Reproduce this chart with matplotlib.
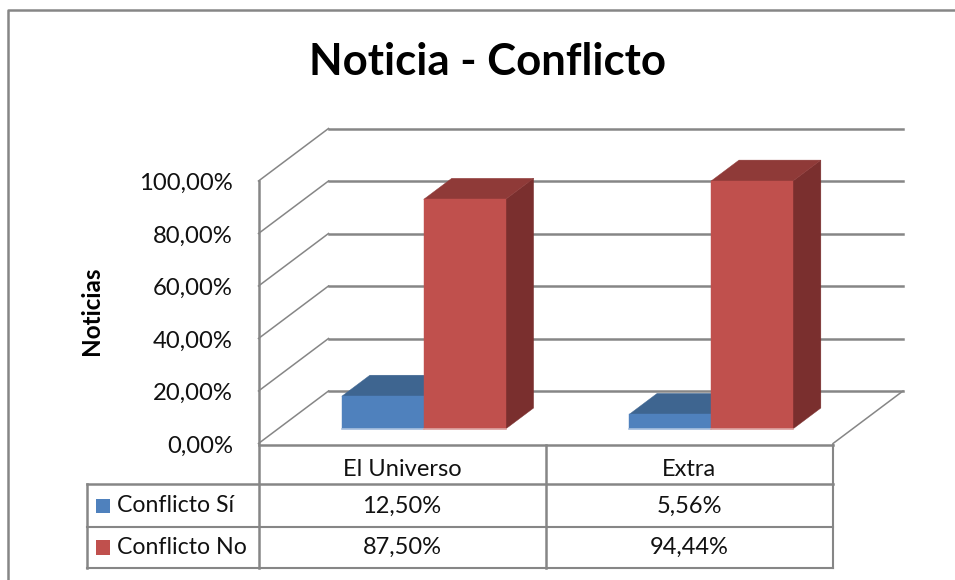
import matplotlib
matplotlib.use("Agg")
import matplotlib.pyplot as plt
from matplotlib.patches import Polygon, Rectangle

plt.rcParams['font.family'] = 'Lato'

# datos
categorias = ["El Universo", "Extra"]
series = ["Conflicto Sí", "Conflicto No"]
conflicto_si = [12.50, 5.56]
conflicto_no = [87.50, 94.44]
ticks_y = [0, 20, 40, 60, 80, 100]
titulo = "Noticia - Conflicto"
eje_y = "Noticias"

GRID = "#868686"
COLORES = {
    "Conflicto Sí": ("#4F81BD", "#3E6590", "#3A5F8A", "#A9C1DF"),
    "Conflicto No": ("#C0504D", "#8F3A38", "#7A2F2E", "#DDA5A3"),
}

W, H = 955, 580
fig = plt.figure(figsize=(W / 100, H / 100), dpi=100, facecolor='white')

# capa en pixeles para marco y tabla
ax_px = fig.add_axes([0, 0, 1, 1])
ax_px.set_xlim(0, W)
ax_px.set_ylim(H, 0)
ax_px.axis('off')

# eje del grafico: x en categorias, y en porcentaje (plano frontal)
X0, X1, Y0, Y100 = 258.5, 833, 443.5, 181
ax = fig.add_axes([X0 / W, 1 - Y0 / H, (X1 - X0) / W, (Y0 - Y100) / H])
ax.set_xlim(0, len(categorias))
ax.set_ylim(0, 100)
ax.axis('off')

# desplazamiento de profundidad (pixeles -> datos)
DX = 70 / ((X1 - X0) / len(categorias))
DY = 52.5 / ((Y0 - Y100) / 100)


def proy(x, v, d):
    return x + d * DX, v + d * DY


# paredes y cuadricula
for t in ticks_y:
    ax.plot(*zip(proy(0, t, 0), proy(0, t, 1)), color=GRID, lw=1.1, clip_on=False, zorder=1)
    ax.plot(*zip(proy(0, t, 1), proy(2, t, 1)), color=GRID, lw=1.8, clip_on=False, zorder=1)
    ax_px.text(233, H - ax.transData.transform((0, t))[1] + 2.5, f"{t},00%",
               ha='right', va='center', fontsize=17.2, color='#111111')
ax.plot(*zip(proy(2, 0, 0), proy(2, 0, 1)), color=GRID, lw=1.1, clip_on=False, zorder=1)

# barras 3D
D_INI, D_PROF = 0.276, 0.40
MARGEN, ANCHO = 0.223, 0.285


def barra(x, v, serie, z):
    frente, tapa, lado, base = COLORES[serie]
    a, b = x, x + ANCHO
    d1, d2 = D_INI, D_INI + D_PROF
    caras = [
        ([proy(b, 0, d1), proy(b, 0, d2), proy(b, v, d2), proy(b, v, d1)], lado),
        ([proy(a, v, d1), proy(b, v, d1), proy(b, v, d2), proy(a, v, d2)], tapa),
        ([proy(a, 0, d1), proy(b, 0, d1), proy(b, v, d1), proy(a, v, d1)], frente),
    ]
    for pts, c in caras:
        ax.add_patch(Polygon(pts, closed=True, facecolor=c, edgecolor=c, lw=0.3, clip_on=False, zorder=z))
    ax.plot(*zip(proy(a, 0, d1), proy(b, 0, d1)), color=base, lw=1.2, clip_on=False, zorder=z + 0.1)


for i in range(len(categorias)):
    barra(i + MARGEN, conflicto_si[i], series[0], 3)
    barra(i + MARGEN + ANCHO, conflicto_no[i], series[1], 4)

# marco exterior
ax_px.plot([W, 7.5, 7.5], [9.5, 9.5, H], color="#868686", lw=1.8)

# tabla de datos
T_TOP, T_1, T_2, T_BOT = 445, 484, 527, 567.5
X_LEY, X_MID = 87, 545.5
ax_px.plot([X0, X0], [Y100, T_BOT], color=GRID, lw=1.8)
ax_px.plot([X0, X1], [T_TOP, T_TOP], color=GRID, lw=1.8)
ax_px.plot([X_LEY, X1], [T_1, T_1], color=GRID, lw=1.8)
ax_px.plot([X_LEY, X1], [T_2, T_2], color=GRID, lw=1.5)
ax_px.plot([X_LEY, X1], [T_BOT, T_BOT], color=GRID, lw=1.5)
ax_px.plot([X_LEY, X_LEY], [T_1, T_BOT], color=GRID, lw=1.8)
ax_px.plot([X_MID, X_MID], [T_TOP, T_BOT], color=GRID, lw=1.8)
ax_px.plot([X1, X1], [T_TOP, T_BOT], color=GRID, lw=1.5)

centros = [(X0 + X_MID) / 2, (X_MID + X1) / 2]
for c, nombre in zip(centros, categorias):
    ax_px.text(c, 470, nombre, ha='center', va='center', fontsize=17, color='#111111')
for fila_y, nombre, valores in [(506, series[0], conflicto_si), (547.5, series[1], conflicto_no)]:
    ax_px.add_patch(Rectangle((96, fila_y - 7.5), 14, 14.5, facecolor=COLORES[nombre][0], edgecolor='none'))
    ax_px.text(117, fila_y, nombre, ha='left', va='center', fontsize=16.7, color='#111111')
    for c, v in zip(centros, valores):
        ax_px.text(c, fila_y, f"{v:.2f}".replace('.', ',') + "%", ha='center', va='center',
                   fontsize=17, color='#111111')

# titulo y eje
ax_px.text(487.5, 62, titulo, ha='center', va='center', fontsize=31.5, fontweight='bold', color='#000000')
ax_px.text(91, 311, eje_y, ha='center', va='center', rotation=90, fontsize=17.5, fontweight='bold', color='#000000')

fig.savefig("out.png", dpi=100)
